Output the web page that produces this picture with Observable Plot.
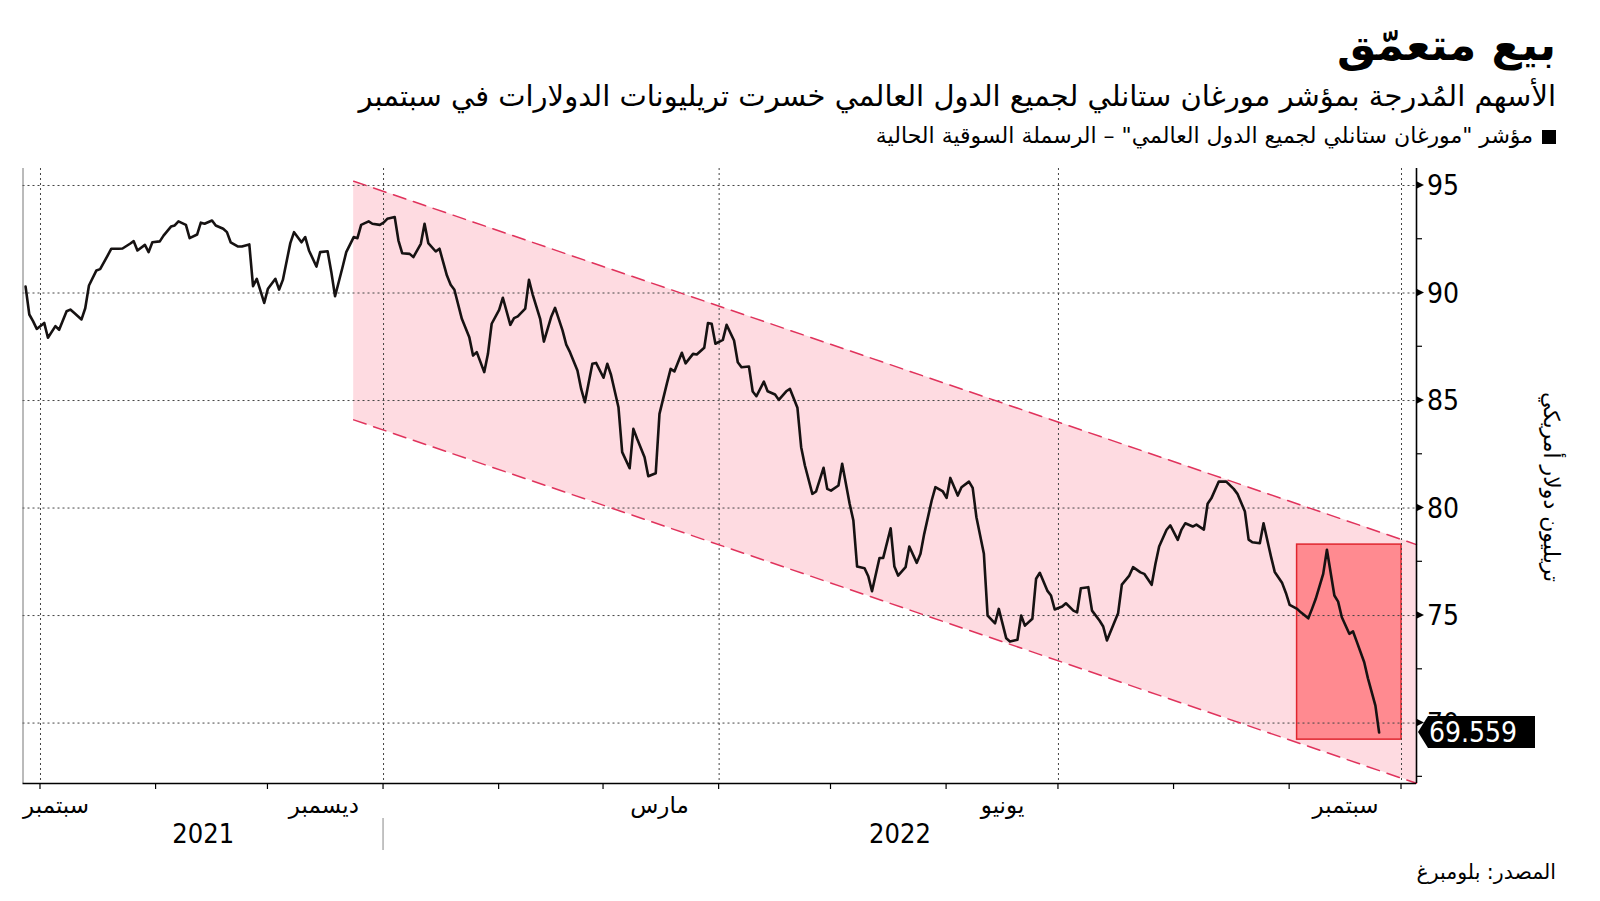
<!DOCTYPE html>
<html><head><meta charset="utf-8">
<script src="https://cdn.jsdelivr.net/npm/d3@7"></script>
<script src="https://cdn.jsdelivr.net/npm/@observablehq/plot@0.6"></script>
<style>
body{margin:0;background:#fff;}
#wrap{position:relative;width:1600px;height:901px;overflow:hidden;background:#fff;font-family:"DejaVu Sans",sans-serif;}
.t{position:absolute;right:44px;direction:rtl;white-space:nowrap;color:#000;line-height:1;}
#title{top:23px;font-size:44px;font-weight:bold;}
#subtitle{top:82px;font-size:29px;}
#legend{top:125px;font-size:22px;}
#legend .sq{display:inline-block;width:14px;height:14px;background:#000;margin-left:9px;vertical-align:middle;}
#source{top:862px;font-size:20.5px;}
#chart{position:absolute;left:0;top:150px;}
</style></head>
<body>
<div id="wrap">
  <div class="t" id="title"></div>
  <div class="t" id="subtitle"></div>
  <div class="t" id="legend"><span class="sq"></span><span id="legtext"></span></div>
  <div class="t" id="source"></div>
  <div id="chart"></div>
</div>
<script>
// ---- texts ----
const titleText = "بيع متعمّق";
const subtitleText = "الأسهم المُدرجة بمؤشر مورغان ستانلي لجميع الدول العالمي خسرت تريليونات الدولارات في سبتمبر";
const legendText = "مؤشر \"مورغان ستانلي لجميع الدول العالمي\" – الرسملة السوقية الحالية";
const sourceText = "المصدر: بلومبرغ";
const yTitle = "تريليون دولار أمريكي";

// ---- series (MSCI ACWI market cap, trillion USD) ----
const dates = [
"2021-09-26","2021-09-27","2021-09-28","2021-09-29","2021-10-01","2021-10-02","2021-10-04","2021-10-05","2021-10-07","2021-10-08",
"2021-10-09","2021-10-11","2021-10-12","2021-10-13","2021-10-15","2021-10-16","2021-10-18","2021-10-19","2021-10-21","2021-10-22",
"2021-10-24","2021-10-25","2021-10-26","2021-10-28","2021-10-29","2021-10-30","2021-11-01","2021-11-02","2021-11-04","2021-11-05",
"2021-11-06","2021-11-08","2021-11-09","2021-11-11","2021-11-12","2021-11-13","2021-11-15","2021-11-16","2021-11-18","2021-11-19",
"2021-11-20","2021-11-22","2021-11-23","2021-11-25","2021-11-26","2021-11-27","2021-11-29","2021-11-30","2021-12-02","2021-12-03",
"2021-12-04","2021-12-06","2021-12-07","2021-12-09","2021-12-10","2021-12-11","2021-12-13","2021-12-14","2021-12-16","2021-12-17",
"2021-12-18","2021-12-20","2021-12-21","2021-12-23","2021-12-24","2021-12-25","2021-12-27","2021-12-28","2021-12-30","2021-12-31",
"2022-01-01","2022-01-03","2022-01-04","2022-01-05","2022-01-07","2022-01-08","2022-01-10","2022-01-11","2022-01-12","2022-01-14",
"2022-01-15","2022-01-17","2022-01-18","2022-01-19","2022-01-21","2022-01-23","2022-01-24","2022-01-25","2022-01-27","2022-01-28",
"2022-01-29","2022-01-31","2022-02-01","2022-02-03","2022-02-04","2022-02-05","2022-02-07","2022-02-08","2022-02-09","2022-02-11",
"2022-02-12","2022-02-14","2022-02-15","2022-02-17","2022-02-18","2022-02-19","2022-02-21","2022-02-22","2022-02-23","2022-02-25",
"2022-02-26","2022-02-28","2022-03-01","2022-03-02","2022-03-04","2022-03-05","2022-03-07","2022-03-08","2022-03-09","2022-03-11",
"2022-03-12","2022-03-14","2022-03-15","2022-03-17","2022-03-18","2022-03-19","2022-03-21","2022-03-22","2022-03-24","2022-03-25",
"2022-03-27","2022-03-28","2022-03-29","2022-03-30","2022-04-01","2022-04-02","2022-04-04","2022-04-05","2022-04-06","2022-04-08",
"2022-04-09","2022-04-10","2022-04-12","2022-04-13","2022-04-15","2022-04-16","2022-04-18","2022-04-19","2022-04-21","2022-04-22",
"2022-04-23","2022-04-25","2022-04-26","2022-04-28","2022-04-29","2022-04-30","2022-05-02","2022-05-03","2022-05-05","2022-05-06",
"2022-05-07","2022-05-09","2022-05-10","2022-05-11","2022-05-13","2022-05-14","2022-05-16","2022-05-17","2022-05-18","2022-05-20",
"2022-05-21","2022-05-23","2022-05-24","2022-05-25","2022-05-27","2022-05-28","2022-05-30","2022-05-31","2022-06-01","2022-06-03",
"2022-06-04","2022-06-06","2022-06-07","2022-06-08","2022-06-10","2022-06-11","2022-06-13","2022-06-14","2022-06-16","2022-06-17",
"2022-06-19","2022-06-20","2022-06-21","2022-06-23","2022-06-24","2022-06-25","2022-06-27","2022-06-28","2022-06-29","2022-07-01",
"2022-07-02","2022-07-04","2022-07-05","2022-07-06","2022-07-08","2022-07-09","2022-07-11","2022-07-12","2022-07-13","2022-07-15",
"2022-07-16","2022-07-17","2022-07-19","2022-07-20","2022-07-22","2022-07-23","2022-07-25","2022-07-26","2022-07-27","2022-07-29",
"2022-07-30","2022-08-01","2022-08-02","2022-08-03","2022-08-05","2022-08-06","2022-08-08","2022-08-09","2022-08-10","2022-08-12",
"2022-08-13","2022-08-14","2022-08-16","2022-08-17","2022-08-19","2022-08-20","2022-08-21","2022-08-23","2022-08-24","2022-08-26",
"2022-08-27","2022-08-29","2022-08-30","2022-08-31","2022-09-02","2022-09-03","2022-09-05","2022-09-06","2022-09-07","2022-09-09",
"2022-09-10","2022-09-12","2022-09-13","2022-09-14","2022-09-16","2022-09-17","2022-09-18","2022-09-20","2022-09-21","2022-09-23",
"2022-09-24"];
const values = [
90.30,89.00,88.69,88.33,88.61,87.92,88.46,88.29,89.15,89.23,
89.08,88.77,89.29,90.35,91.05,91.11,91.74,92.06,92.06,92.07,
92.29,92.41,91.98,92.24,91.90,92.36,92.40,92.67,93.09,93.14,
93.33,93.17,92.55,92.72,93.27,93.22,93.37,93.14,92.99,92.83,
92.36,92.16,92.16,92.26,90.32,90.66,89.54,90.20,90.66,90.16,
90.61,92.32,92.83,92.36,92.60,91.98,91.23,91.90,91.94,90.97,
89.85,91.20,91.90,92.60,92.55,93.17,93.33,93.22,93.17,93.27,
93.45,93.53,92.44,91.85,91.82,91.67,92.29,93.22,92.32,91.93,
92.06,90.81,90.38,90.15,88.80,87.94,87.09,87.25,86.32,87.17,
88.57,89.22,89.78,88.52,88.83,88.91,89.27,90.61,89.93,88.80,
87.74,88.91,89.31,88.26,87.60,87.25,86.40,85.54,84.92,86.71,
86.75,86.06,86.71,86.20,84.69,82.60,81.85,83.68,83.22,82.36,
81.48,81.62,84.38,85.80,86.47,86.35,87.22,86.73,87.17,87.14,
87.45,88.60,88.57,87.64,87.82,88.52,87.79,86.78,86.55,86.58,
85.42,85.20,85.88,85.43,85.28,85.03,85.43,85.54,84.66,82.83,
81.98,80.66,80.77,81.87,80.89,80.81,81.05,82.06,80.20,79.42,
77.28,77.20,76.83,76.13,77.68,77.68,79.06,77.28,76.86,77.25,
78.21,77.45,77.87,78.80,80.35,80.97,80.77,80.47,81.40,80.58,
80.97,81.23,80.94,79.57,77.87,75.00,74.64,75.31,73.94,73.79,
73.87,75.00,74.53,74.85,76.71,76.99,76.16,75.93,75.28,75.42,
75.57,75.23,75.15,76.27,76.32,75.23,74.77,74.49,73.84,74.69,
75.11,76.44,76.86,77.25,77.01,76.94,76.43,77.40,78.21,78.99,
79.19,78.52,79.00,79.29,79.14,79.23,79.00,80.20,80.45,81.23,
81.23,81.23,80.89,80.66,79.84,78.53,78.41,78.36,79.29,77.74,
77.03,76.51,76.05,75.50,75.31,75.15,74.87,75.31,75.78,76.94,
78.06,75.93,75.65,74.92,74.15,74.26,73.79,72.83,72.08,70.81,
69.559];

// ---- downtrend channel ----
const bandDates = ["2021-12-23", "2022-10-04"];
const bandUpper = [95.2, 78.3];
const bandLower = [84.1, 67.2];

// ---- September 2022 highlight box ----
const boxDates = ["2022-09-02", "2022-09-30"];
const boxValues = [69.23, 78.30];

// ---- axes ----
const xDomain = [new Date(Date.UTC(2021, 8, 25, 7, 25)), new Date(Date.UTC(2022, 9, 4, 0, 30))];
const yDomain = [67.19, 95.79];
const yMajor = [70, 75, 80, 85, 90, 95];
const yMinor = [67.5, 72.5, 77.5, 82.5, 87.5, 92.5];
const monthEnds = ["2021-09-30","2021-10-31","2021-11-30","2021-12-31","2022-01-31","2022-02-28","2022-03-31",
                   "2022-04-30","2022-05-31","2022-06-30","2022-07-31","2022-08-31","2022-09-30"];
const quarterEnds = ["2021-09-30","2021-12-31","2022-03-31","2022-06-30","2022-09-30"];
const monthNames = ["سبتمبر","ديسمبر","مارس","يونيو","سبتمبر"];
const monthLabelDates = ["2021-09-15","2021-12-15","2022-03-15","2022-06-15","2022-09-15"];
const years = ["2021","2022"];
const yearBreak = "2021-12-31";
const lastValue = values[values.length - 1];

// ---- header ----
document.getElementById("title").textContent = titleText;
document.getElementById("subtitle").textContent = subtitleText;
document.getElementById("legtext").textContent = legendText;
document.getElementById("source").textContent = sourceText;

// ---- build tables ----
const series = dates.map((d, i) => ({date: new Date(d), value: values[i]}));
const band = bandDates.map((d, i) => ({date: new Date(d), upper: bandUpper[i], lower: bandLower[i]}));
const box = [{x1: new Date(boxDates[0]), x2: new Date(boxDates[1]), y1: boxValues[0], y2: boxValues[1]}];
const monthData = monthNames.map((n, i) => ({name: n, date: new Date(monthLabelDates[i])}));
const yb = new Date(yearBreak);
const yearData = [
  {name: years[0], date: new Date((+xDomain[0] + +yb) / 2)},
  {name: years[1], date: new Date((+yb + +xDomain[1]) / 2)}
];
const numFont = "'Liberation Sans Narrow','DejaVu Sans Condensed',Roboto,sans-serif";

function decor(index, scales) {
  const x = scales.x, y = scales.y;
  const xR = x(xDomain[1]), yB = y(yDomain[0]);
  const g = d3.create("svg:g").attr("text-anchor", "start");
  for (const d of monthEnds) {
    const px = x(new Date(d));
    g.append("line").attr("x1", px).attr("x2", px).attr("y1", yB).attr("y2", yB + 6)
      .attr("stroke", "#000").attr("stroke-width", 1.2);
  }
  const sx = x(yb);
  g.append("line").attr("x1", sx).attr("x2", sx).attr("y1", yB + 35).attr("y2", yB + 67)
    .attr("stroke", "#888").attr("stroke-width", 1);
  for (const v of yMinor) {
    g.append("line").attr("x1", xR).attr("x2", xR + 6).attr("y1", y(v)).attr("y2", y(v))
      .attr("stroke", "#000").attr("stroke-width", 1.2);
  }
  for (const v of yMajor) {
    const py = y(v);
    g.append("path").attr("d", `M${xR},${py - 4}L${xR + 8},${py}L${xR},${py + 4}Z`).attr("fill", "#000");
  }
  for (const v of yMajor) {
    g.append("text").attr("x", xR + 11).attr("y", y(v)).attr("dy", "0.36em").attr("text-anchor", "start")
      .attr("font-family", numFont).attr("font-size", 28).attr("fill", "#000").text(v);
  }
  const py = y(lastValue);
  g.append("path")
    .attr("d", `M${xR + 2},${py}L${xR + 12},${py - 16}L${xR + 119},${py - 16}L${xR + 119},${py + 16}L${xR + 12},${py + 16}Z`)
    .attr("fill", "#000");
  g.append("text").attr("x", xR + 13).attr("y", py).attr("dy", "0.36em").attr("text-anchor", "start")
    .attr("font-family", numFont).attr("font-size", 28).attr("fill", "#fff").text(lastValue.toFixed(3));
  return g.node();
}

const chart = Plot.plot({
  width: 1600,
  height: 720,
  marginTop: 18,
  marginBottom: 87,
  marginLeft: 22.5,
  marginRight: 184,
  x: {type: "utc", domain: xDomain, axis: null},
  y: {domain: yDomain, axis: null},
  style: {background: "transparent", overflow: "visible", fontFamily: "'DejaVu Sans',sans-serif"},
  marks: [
    Plot.areaY(band, {x: "date", y1: "lower", y2: "upper", fill: "#fedbe1"}),
    Plot.rect(box, {x1: "x1", x2: "x2", y1: "y1", y2: "y2", fill: "#ff8a90", stroke: "#e0262f", strokeWidth: 1.5}),
    Plot.ruleY(yMajor, {stroke: "#444", strokeDasharray: "2,3", strokeWidth: 1}),
    Plot.ruleX(quarterEnds.map(d => new Date(d)), {stroke: "#444", strokeDasharray: "2,3", strokeWidth: 1}),
    Plot.line(band, {x: "date", y: "upper", stroke: "#e0335c", strokeWidth: 1.5, strokeDasharray: "13,8"}),
    Plot.line(band, {x: "date", y: "lower", stroke: "#e0335c", strokeWidth: 1.5, strokeDasharray: "13,8"}),
    Plot.ruleX([xDomain[0]], {stroke: "#777", strokeWidth: 1}),
    Plot.ruleX([xDomain[1]], {stroke: "#000", strokeWidth: 1.6}),
    Plot.ruleY([yDomain[0]], {stroke: "#000", strokeWidth: 1.6}),
    Plot.line(series, {x: "date", y: "value", stroke: "#161212", strokeWidth: 2.6, strokeLinejoin: "round"}),
    Plot.text(monthData.filter(d => d.date < xDomain[0]), {x: () => xDomain[0], text: "name", frameAnchor: "bottom", dy: 29, textAnchor: "start", fontSize: 23, fill: "#000"}),
    Plot.text(monthData.filter(d => d.date >= xDomain[0]), {x: "date", text: "name", frameAnchor: "bottom", dy: 29, textAnchor: "middle", fontSize: 23, fill: "#000"}),
    Plot.text(yearData, {x: "date", text: "name", frameAnchor: "bottom", dy: 59, textAnchor: "middle", fontSize: 27, fontFamily: numFont, fill: "#000"}),
    Plot.text([yTitle], {text: d => d, frameAnchor: "right", dx: 135, dy: 11, rotate: 90, textAnchor: "middle", fontSize: 22, fill: "#000"}),
    decor
  ]
});
document.getElementById("chart").appendChild(chart);
</script>
</body></html>
